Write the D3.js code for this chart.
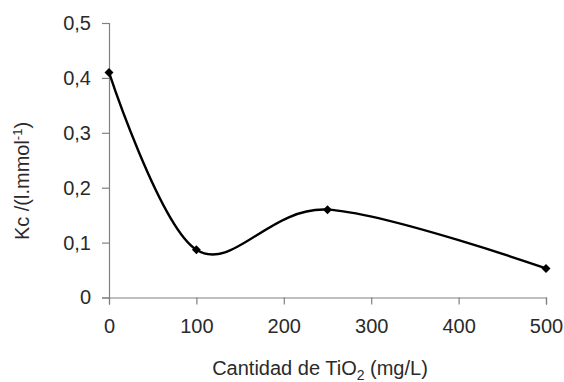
<!DOCTYPE html>
<html>
<head>
<meta charset="utf-8">
<script src="https://cdn.jsdelivr.net/npm/d3@7/dist/d3.min.js"></script>
<style>
  body { margin: 0; background: #fff; }
  text { font-family: "Liberation Sans", Arial, sans-serif; fill: #2a2a2a; }
</style>
</head>
<body>
<div id="chart"></div>
<script>
// TiO2 amount (mg/L) and Kc values
const doses = [0, 100, 250, 500];
const kcValues = [0.41, 0.087, 0.16, 0.053];
const xTicks = [0, 100, 200, 300, 400, 500];
const yTicks = [0, 0.1, 0.2, 0.3, 0.4, 0.5];

const width = 564, height = 382;
const margin = {top: 23, right: 18, bottom: 84.5, left: 109};

const svg = d3.select("#chart")
    .append("svg")
    .attr("width", width)
    .attr("height", height);

const x = d3.scaleLinear().domain([0, 500]).range([margin.left, width - margin.right]);
const y = d3.scaleLinear().domain([0, 0.5]).range([height - margin.bottom, margin.top]);

const fmt = v => v === 0 ? "0" : d3.format(".1f")(v).replace(".", ",");

// y axis
const yAxis = svg.append("g")
    .attr("transform", "translate(" + margin.left + ",0)")
    .call(d3.axisLeft(y).tickValues(yTicks).tickFormat(fmt).tickSize(7).tickPadding(11));

// x axis
const xAxis = svg.append("g")
    .attr("transform", "translate(0," + y(0) + ")")
    .call(d3.axisBottom(x).tickValues(xTicks).tickSize(7).tickPadding(14));

[yAxis, xAxis].forEach(function(ax) {
    ax.select(".domain").attr("stroke", "#808080").attr("stroke-width", 1.2);
    ax.selectAll(".tick line").attr("stroke", "#808080").attr("stroke-width", 1.2);
    ax.selectAll(".tick text")
        .style("font-family", "'Liberation Sans', Arial, sans-serif")
        .style("font-size", "20px")
        .attr("fill", "#2a2a2a");
});

// smoothed line
const pts = doses.map((d, i) => [d, kcValues[i]]);
const line = d3.line()
    .x(d => x(d[0]))
    .y(d => y(d[1]))
    .curve(d3.curveCatmullRom.alpha(0));

svg.append("path")
    .datum(pts)
    .attr("d", line)
    .attr("fill", "none")
    .attr("stroke", "#000")
    .attr("stroke-width", 2.4);

// diamond markers (rotated squares)
svg.selectAll(".marker")
    .data(pts)
    .enter()
    .append("path")
    .attr("class", "marker")
    .attr("transform", d => "translate(" + x(d[0]) + "," + y(d[1]) + ") rotate(45)")
    .attr("d", d3.symbol().type(d3.symbolSquare).size(40))
    .attr("fill", "#000");

// axis titles
svg.append("text")
    .attr("x", 320)
    .attr("y", 375)
    .attr("text-anchor", "middle")
    .style("font-size", "20px")
    .html('Cantidad de TiO<tspan dy="5" font-size="14px">2</tspan><tspan dy="-5"> (mg/L)</tspan>');

svg.append("text")
    .attr("transform", "translate(29,181) rotate(-90)")
    .attr("text-anchor", "middle")
    .style("font-size", "20px")
    .html('Kc /(l.mmol<tspan dy="-7" font-size="13px">-1</tspan><tspan dy="7">)</tspan>');
</script>
</body>
</html>
